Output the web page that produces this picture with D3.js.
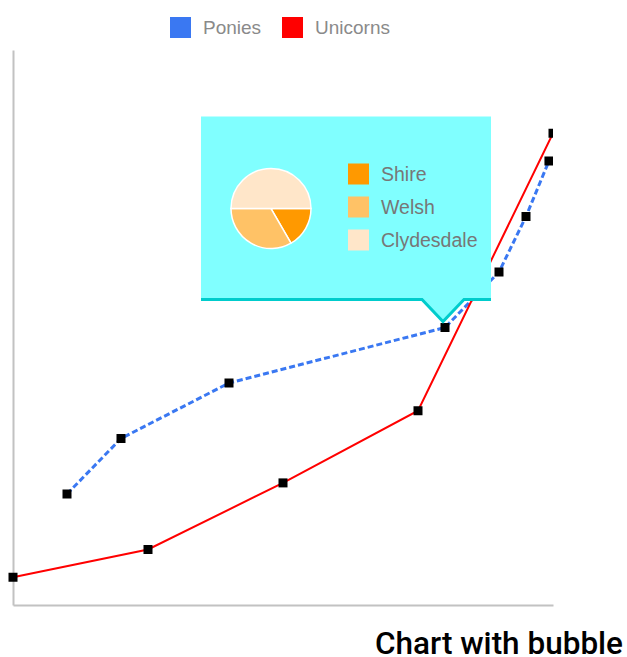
<!DOCTYPE html>
<html>
<head>
<meta charset="utf-8">
<script src="https://cdn.jsdelivr.net/npm/d3@7"></script>
<style>
  body { margin: 0; background: #fff; }
  text { font-family: "Liberation Sans", Arial, sans-serif; }
</style>
</head>
<body>
<div id="lineChart"></div>
<script>
// series data
var seriesNames = ["Ponies", "Unicorns"];
var seriesColors = ["#3a78f2", "#ff0000"];
var poniesX = [4, 8, 16, 32, 36, 38, 39.7];
var poniesY = [1, 2, 3, 4, 5, 6, 7];
var unicornsX = [0, 10, 20, 30, 40];
var unicornsY = [-0.5, 0, 1.2, 2.5, 7.5];

// pie inside the bubble
var breedNames = ["Shire", "Welsh", "Clydesdale"];
var breedValues = [1, 2, 3];
var breedColors = ["#ff9900", "#ffc266", "#ffe6c9"];
var bubbleIndex = 3; // ponies point that the bubble points at

var svg = d3.select("#lineChart").append("svg")
    .attr("width", 627).attr("height", 657),
    margin = {top: 50, right: 74, bottom: 52, left: 13},
    width = 627 - margin.left - margin.right,
    height = 657 - margin.top - margin.bottom,
    g = svg.append("g").attr("transform", "translate(" + margin.left + "," + margin.top + ")");

var xScale = d3.scaleLinear().domain([0, 40]).range([0, width]),
    yScale = d3.scaleLinear().domain([-1, 9]).range([height, 0]);

var series = [
  {id: seriesNames[0], values: poniesX.map(function(x, i) { return {x: x, y: poniesY[i]}; })},
  {id: seriesNames[1], values: unicornsX.map(function(x, i) { return {x: x, y: unicornsY[i]}; })}
];

var line = d3.line()
    .x(function(d) { return xScale(d.x); })
    .y(function(d) { return yScale(d.y); });

// axis lines
g.append("g")
    .call(d3.axisLeft(yScale).ticks(0).tickSizeOuter(0))
    .call(function(a) { a.select(".domain").attr("stroke", "#c2c2c2").attr("stroke-width", 2); });
g.append("g")
    .attr("transform", "translate(0," + height + ")")
    .call(d3.axisBottom(xScale).ticks(0).tickSizeOuter(0))
    .call(function(a) { a.select(".domain").attr("stroke", "#c2c2c2").attr("stroke-width", 2); });

svg.append("clipPath").attr("id", "plotClip")
  .append("rect").attr("x", -10).attr("y", -10).attr("width", width + 10).attr("height", height + 20);

var plot = g.append("g").attr("clip-path", "url(#plotClip)");

plot.selectAll(".series")
    .data(series)
    .enter().append("path")
    .attr("class", "series")
    .attr("fill", "none")
    .attr("d", function(d) { return line(d.values); })
    .attr("stroke", function(d, i) { return seriesColors[i]; })
    .attr("stroke-width", function(d, i) { return i == 0 ? 3 : 2; })
    .attr("stroke-dasharray", function(d, i) { return i == 0 ? "6,3" : null; });

series.forEach(function(s) {
  plot.selectAll(null)
      .data(s.values)
      .enter().append("rect")
      .attr("x", function(d) { return xScale(d.x) - 4.5; })
      .attr("y", function(d) { return yScale(d.y) - 4.5; })
      .attr("width", 9).attr("height", 9)
      .attr("fill", "#000");
});

// top legend
var legend = svg.append("g").attr("transform", "translate(170,17)");
var legendX = [0, 112];
seriesNames.forEach(function(name, i) {
  legend.append("rect").attr("x", legendX[i]).attr("y", 0)
      .attr("width", 21).attr("height", 21).attr("fill", seriesColors[i]);
  legend.append("text").attr("x", legendX[i] + 33).attr("y", 17)
      .style("font-size", "19px").attr("fill", "#8a8a8a").text(name);
});

// bubble tooltip anchored at a ponies point
var anchor = series[0].values[bubbleIndex];
var ax = margin.left + xScale(anchor.x) - 2, ay = margin.top + yScale(anchor.y) - 6;
var bx0 = ax - 242, bx1 = ax + 48, by0 = ay - 205, by1 = ay - 22, tail = 21;

var bubble = svg.append("g");
bubble.append("path")
    .attr("d", "M" + bx0 + "," + by0 + "H" + bx1 + "V" + by1 + "H" + (ax + tail) +
      "L" + ax + "," + ay + "L" + (ax - tail) + "," + by1 + "H" + bx0 + "Z")
    .attr("fill", "#80ffff");
bubble.append("path")
    .attr("d", "M" + bx0 + "," + by1 + "H" + (ax - tail) + "L" + ax + "," + ay +
      "L" + (ax + tail) + "," + by1 + "H" + bx1)
    .attr("fill", "none").attr("stroke", "#00cccc").attr("stroke-width", 3);

var pie = d3.pie().sort(null).startAngle(Math.PI / 2).endAngle(Math.PI * 2.5);
var arc = d3.arc().innerRadius(0).outerRadius(40);
var pieG = bubble.append("g").attr("transform", "translate(" + (bx0 + 70) + "," + (by0 + 92) + ")");
pieG.selectAll("path")
    .data(pie(breedValues))
    .enter().append("path")
    .attr("d", arc)
    .attr("fill", function(d, i) { return breedColors[i]; })
    .attr("stroke", "#fff").attr("stroke-width", 1.5);

breedNames.forEach(function(name, i) {
  bubble.append("rect").attr("x", bx0 + 147).attr("y", by0 + 47 + i * 33)
      .attr("width", 21).attr("height", 21).attr("fill", breedColors[i]);
  bubble.append("text").attr("x", bx0 + 180).attr("y", by0 + 64 + i * 33)
      .style("font-size", "19.5px").attr("fill", "#777").text(name);
});

// title
svg.append("text")
    .attr("x", 623).attr("y", 654)
    .attr("text-anchor", "end")
    .style("font-family", "Roboto, sans-serif")
    .style("font-size", "31.5px").style("font-weight", "500")
    .attr("fill", "#000")
    .text("Chart with bubble");
</script>
</body>
</html>
